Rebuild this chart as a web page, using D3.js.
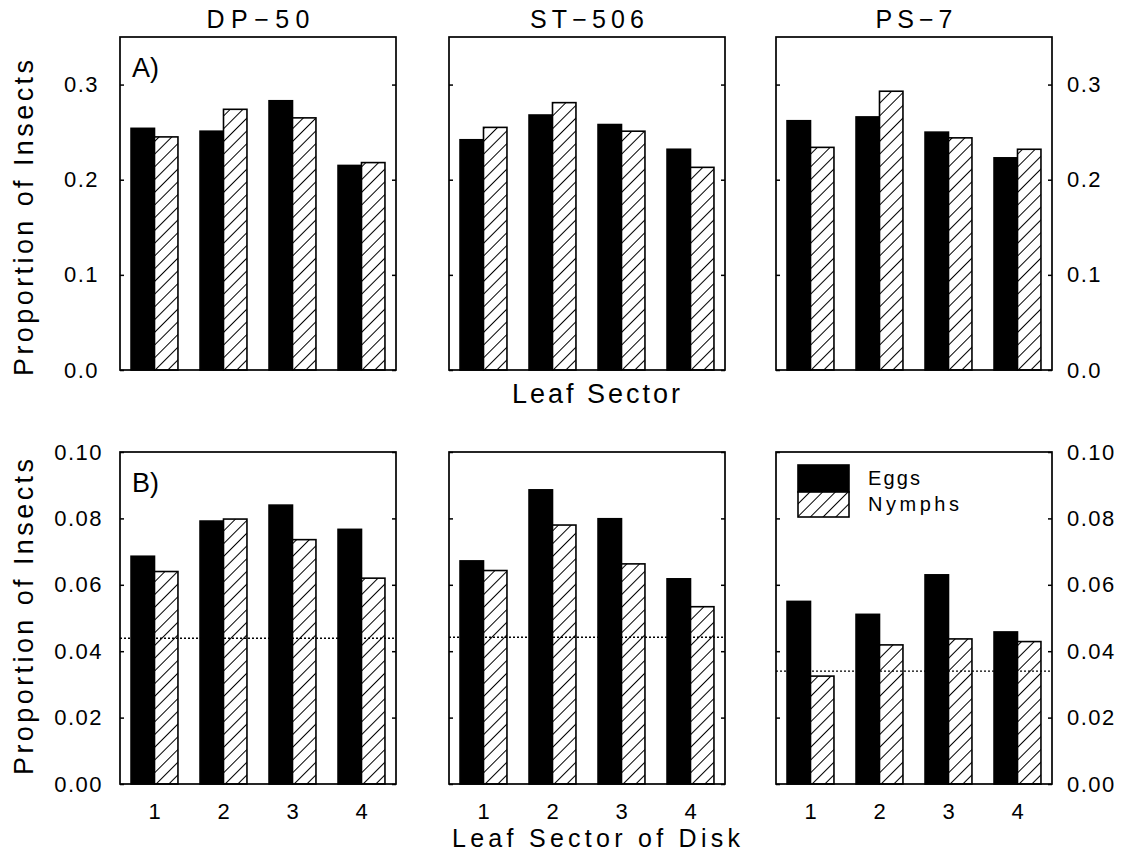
<!DOCTYPE html>
<html>
<head>
<meta charset="utf-8">
<script src="https://cdn.jsdelivr.net/npm/d3@7"></script>
<style>
  body { margin: 0; background: #fff; }
  svg text { font-family: "Liberation Sans", Arial, sans-serif; fill: #000; }
</style>
</head>
<body>
<svg id="chart" width="1126" height="856"></svg>
<script>
// Whitefly distribution by leaf sector (A) and leaf sector of disk (B)
var cultivars = ['DP\u221250', 'ST\u2212506', 'PS\u22127'];
var sectors = ['1', '2', '3', '4'];
var seriesNames = ['Eggs', 'Nymphs'];

// A) proportion per leaf sector
var dp50LeafEggs = [0.254, 0.251, 0.283, 0.215];
var dp50LeafNymphs = [0.245, 0.274, 0.265, 0.218];
var st506LeafEggs = [0.242, 0.268, 0.258, 0.232];
var st506LeafNymphs = [0.255, 0.281, 0.251, 0.213];
var ps7LeafEggs = [0.262, 0.266, 0.250, 0.223];
var ps7LeafNymphs = [0.234, 0.293, 0.244, 0.232];

// B) proportion per leaf sector of disk
var dp50DiskEggs = [0.0686, 0.0792, 0.0840, 0.0767];
var dp50DiskNymphs = [0.0640, 0.0798, 0.0736, 0.0620];
var st506DiskEggs = [0.0672, 0.0886, 0.0799, 0.0618];
var st506DiskNymphs = [0.0643, 0.0780, 0.0663, 0.0534];
var ps7DiskEggs = [0.0550, 0.0511, 0.0630, 0.0458];
var ps7DiskNymphs = [0.0325, 0.0419, 0.0437, 0.0429];
var diskExpected = [0.0439, 0.0442, 0.0340];

var leafTicks = [0, 0.1, 0.2, 0.3];
var diskTicks = [0, 0.02, 0.04, 0.06, 0.08, 0.10];

(function () {
  'use strict';

  var svg = d3.select('#chart');
  var panelLefts = [120, 449, 776];
  var panelW = 276;
  var rows = [
    { top: 37, bottom: 370, max: 0.35, ticks: leafTicks, fmt: d3.format('.1f'), tag: 'A)',
      eggs: [dp50LeafEggs, st506LeafEggs, ps7LeafEggs],
      nymphs: [dp50LeafNymphs, st506LeafNymphs, ps7LeafNymphs] },
    { top: 452, bottom: 784, max: 0.10, ticks: diskTicks, fmt: d3.format('.2f'), tag: 'B)',
      eggs: [dp50DiskEggs, st506DiskEggs, ps7DiskEggs],
      nymphs: [dp50DiskNymphs, st506DiskNymphs, ps7DiskNymphs],
      expected: diskExpected }
  ];

  // hatch pattern for nymphs
  var defs = svg.append('defs');
  var pat = defs.append('pattern').attr('id', 'hatch')
    .attr('patternUnits', 'userSpaceOnUse')
    .attr('width', 9).attr('height', 9)
    .attr('patternTransform', 'rotate(45)');
  pat.append('rect').attr('width', 9).attr('height', 9).attr('fill', '#fff');
  pat.append('line').attr('x1', 0).attr('y1', 0).attr('x2', 0).attr('y2', 9)
    .attr('stroke', '#000').attr('stroke-width', 2);

  var x = d3.scaleBand().domain(sectors).range([0, panelW]).paddingInner(0.32).paddingOuter(0.16);
  var xs = d3.scaleBand().domain(seriesNames).range([0, x.bandwidth()]);

  rows.forEach(function (row, ri) {
    var y = d3.scaleLinear().domain([0, row.max]).range([row.bottom - row.top, 0]);

    panelLefts.forEach(function (left, ci) {
      var g = svg.append('g').attr('transform', 'translate(' + left + ',' + row.top + ')');
      var data = sectors.map(function (s, i) {
        return { sector: s, Eggs: row.eggs[ci][i], Nymphs: row.nymphs[ci][i] };
      });

      var groups = g.selectAll('.grp').data(data).enter().append('g')
        .attr('transform', function (d) { return 'translate(' + x(d.sector) + ',0)'; });
      groups.selectAll('rect')
        .data(function (d) { return seriesNames.map(function (k) { return { key: k, v: d[k] }; }); })
        .enter().append('rect')
        .attr('x', function (d) { return xs(d.key); })
        .attr('width', xs.bandwidth())
        .attr('y', function (d) { return y(d.v); })
        .attr('height', function (d) { return y(0) - y(d.v); })
        .attr('fill', function (d) { return d.key === 'Eggs' ? '#000' : 'url(#hatch)'; })
        .attr('stroke', '#000').attr('stroke-width', 1.6);

      // expected proportion (dotted)
      if (row.expected) {
        g.append('line')
          .attr('x1', 0).attr('x2', panelW)
          .attr('y1', y(row.expected[ci])).attr('y2', y(row.expected[ci]))
          .attr('stroke', '#000').attr('stroke-width', 1.4)
          .attr('stroke-dasharray', '2,2');
      }

      // inward ticks on both sides, labels on outer columns
      var leftAxis = d3.axisLeft(y).tickValues(row.ticks).tickFormat(row.fmt)
        .tickSizeInner(-4).tickSizeOuter(0).tickPadding(ri === 0 ? 21 : 17);
      var rightAxis = d3.axisRight(y).tickValues(row.ticks).tickFormat(row.fmt)
        .tickSizeInner(-4).tickSizeOuter(0).tickPadding(15);
      var la = g.append('g').call(leftAxis);
      var ra = g.append('g').attr('transform', 'translate(' + panelW + ',0)').call(rightAxis);
      [la, ra].forEach(function (a) {
        a.select('.domain').remove();
        a.selectAll('line').attr('stroke', '#000').attr('stroke-width', 1.5);
        a.selectAll('text').style('font-size', '22px').style('letter-spacing', '1.5px');
      });
      if (ci !== 0) la.selectAll('text').remove();
      if (ci !== 2) ra.selectAll('text').remove();

      if (ri === 1) {
        var xa = g.append('g').attr('transform', 'translate(0,' + (row.bottom - row.top) + ')')
          .call(d3.axisBottom(x).tickSize(0).tickPadding(19));
        xa.select('.domain').remove();
        xa.selectAll('text').style('font-size', '22px');
      }

      g.append('rect').attr('width', panelW).attr('height', row.bottom - row.top)
        .attr('fill', 'none').attr('stroke', '#000').attr('stroke-width', 1.7);

      if (ci === 0) {
        g.append('text').attr('x', 12).attr('y', 40)
          .style('font-size', '27px').text(row.tag);
      }
    });

    // y axis title
    svg.append('text')
      .attr('transform', 'translate(33,' + (ri === 0 ? 218 : 617) + ') rotate(-90)')
      .attr('text-anchor', 'middle')
      .attr('textLength', 316).attr('lengthAdjust', 'spacing')
      .style('font-size', '27px')
      .text('Proportion of Insects');
  });

  // cultivar titles
  var titleWidths = [103, 114, 77];
  cultivars.forEach(function (c, i) {
    svg.append('text')
      .attr('x', panelLefts[i] + panelW / 2).attr('y', 28)
      .attr('text-anchor', 'middle')
      .attr('textLength', titleWidths[i]).attr('lengthAdjust', 'spacing')
      .style('font-size', '25px')
      .text(c);
  });

  // x axis titles
  svg.append('text').attr('x', 596).attr('y', 403).attr('text-anchor', 'middle')
    .attr('textLength', 168).attr('lengthAdjust', 'spacing')
    .style('font-size', '27px').text('Leaf Sector');
  svg.append('text').attr('x', 596).attr('y', 847).attr('text-anchor', 'middle')
    .attr('textLength', 288).attr('lengthAdjust', 'spacing')
    .style('font-size', '25px').text('Leaf Sector of Disk');

  // legend in last lower panel
  var lg = svg.append('g').attr('transform', 'translate(' + (panelLefts[2] + 22) + ',' + (rows[1].top + 13) + ')');
  lg.selectAll('rect').data(seriesNames).enter().append('rect')
    .attr('x', 0).attr('y', function (d, i) { return i * 27; })
    .attr('width', 51).attr('height', function (d, i) { return i === 0 ? 27 : 25; })
    .attr('fill', function (d) { return d === 'Eggs' ? '#000' : 'url(#hatch)'; })
    .attr('stroke', '#000').attr('stroke-width', 1.6);
  lg.selectAll('text').data(seriesNames).enter().append('text')
    .attr('x', 70).attr('y', function (d, i) { return 20 + i * 26; })
    .attr('textLength', function (d) { return d === 'Eggs' ? 52 : 91; })
    .attr('lengthAdjust', 'spacing')
    .style('font-size', '20px')
    .text(function (d) { return d; });
})();
</script>
</body>
</html>
